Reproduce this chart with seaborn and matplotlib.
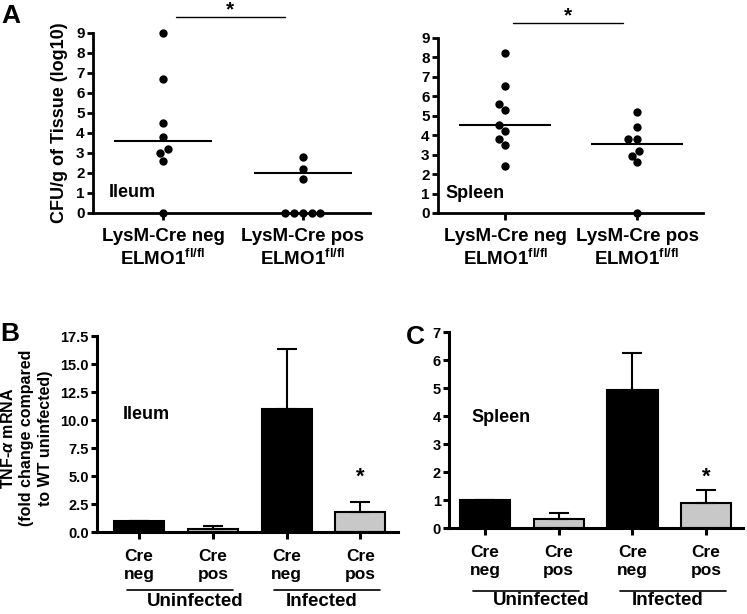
import numpy as np
import pandas as pd
import seaborn as sns
import matplotlib.pyplot as plt

# Panel A: CFU per g tissue (log10), one dot per mouse
groups = ['LysM-Cre neg', 'LysM-Cre pos']
ileum_neg = [9.0, 6.7, 4.5, 3.8, 3.2, 3.0, 2.6, 0.0]
ileum_pos = [2.8, 2.2, 1.7, 0.0, 0.0, 0.0, 0.0, 0.0]
spleen_neg = [8.2, 6.5, 5.6, 5.3, 4.5, 4.2, 3.8, 3.5, 2.4]
spleen_pos = [5.2, 4.4, 3.8, 3.8, 3.2, 2.95, 2.6, 0.0]
ileum_line = [3.6, 2.0]
spleen_line = [4.5, 3.55]

# Panels B/C: TNF-alpha mRNA
bar_ids = ['Uninfected neg', 'Uninfected pos', 'Infected neg', 'Infected pos']
bar_labels = ['Cre\nneg', 'Cre\npos', 'Cre\nneg', 'Cre\npos']
conditions = ['Uninfected', 'Infected']
ileum_tnf = [1.0, 0.25, 11.0, 1.8]
ileum_tnf_err = [0.0, 0.25, 5.3, 0.9]
spleen_tnf = [1.0, 0.33, 4.92, 0.9]
spleen_tnf_err = [0.0, 0.19, 1.33, 0.45]

sns.set_theme(style='ticks')
plt.rcParams['font.family'] = ['Liberation Sans', 'DejaVu Sans']
plt.rcParams['font.weight'] = 'bold'
plt.rcParams['axes.labelweight'] = 'bold'
plt.rcParams['text.color'] = 'black'
plt.rcParams['axes.labelcolor'] = 'black'
plt.rcParams['xtick.color'] = 'black'
plt.rcParams['ytick.color'] = 'black'
plt.rcParams['mathtext.fontset'] = 'custom'
plt.rcParams['mathtext.rm'] = 'Liberation Sans:bold'
plt.rcParams['mathtext.bf'] = 'Liberation Sans:bold'
plt.rcParams['mathtext.it'] = 'Liberation Sans:italic:bold'

W, H = 747, 614
fig = plt.figure(figsize=(W / 100, H / 100), dpi=100)


def px_axes(left, top, right, bottom):
    return fig.add_axes([left / W, 1 - bottom / H, (right - left) / W, (bottom - top) / H])


def style_axes(ax, lw):
    for s in ['top', 'right']:
        ax.spines[s].set_visible(False)
    for s in ['left', 'bottom']:
        ax.spines[s].set_linewidth(lw)
        ax.spines[s].set_color('black')
    ax.tick_params(axis='both', colors='black', width=lw, length=4, pad=2)


def dot_panel(ax, neg, pos, line, organ, xlim, sig_x, sig_y, text_x):
    df = pd.DataFrame({'group': [groups[0]] * len(neg) + [groups[1]] * len(pos),
                       'value': neg + pos})
    sns.swarmplot(data=df, x='group', y='value', order=groups, color='black',
                  size=6, ax=ax)
    for c in ax.collections:
        c.set_clip_on(False)
        c.set_zorder(5)
    ax.hlines(line, [i - 0.35 for i in range(2)], [i + 0.35 for i in range(2)],
              color='black', lw=1.5)
    ax.set_xlim(*xlim)
    ax.set_ylim(0, 9)
    ax.set_yticks(range(10))
    ax.set_xticks([0, 1])
    ax.set_xticklabels([g + '\nELMO1$^{\\mathrm{fl/fl}}$' for g in groups], fontsize=13.5)
    ax.tick_params(axis='y', labelsize=11)
    ax.tick_params(axis='x', length=5, pad=6)
    ax.set_xlabel('')
    ax.set_ylabel('')
    ax.plot(sig_x, [sig_y, sig_y], color='black', lw=1, clip_on=False)
    ax.text(np.mean(sig_x), sig_y + 0.35, '*', ha='center', va='center', fontsize=15)
    ax.text(text_x, 1.0, organ, ha='left', va='center', fontsize=13)


def bar_panel(ax, values, err, ymax, yticks, organ, organ_xy, star_y, xlim, under_y, text_y):
    df = pd.DataFrame({'id': bar_ids, 'value': values})
    colors = dict(zip(bar_ids, ['black', '#c8c8c8', 'black', '#c8c8c8']))
    sns.barplot(data=df, x='id', y='value', hue='id', palette=colors, order=bar_ids,
                width=0.68, edgecolor='black', linewidth=1.5, legend=False,
                errorbar=None, ax=ax)
    ax.errorbar(range(4), values, yerr=[np.zeros(4), err], fmt='none', ecolor='black',
                capsize=7, elinewidth=1.5, capthick=1.5, zorder=1)
    ax.set_xlim(*xlim)
    ax.set_ylim(0, ymax)
    ax.set_yticks(yticks)
    ax.set_xticks(range(4))
    ax.set_xticklabels(bar_labels, fontsize=12.5)
    for t in ax.get_xticklabels():
        t.set_linespacing(1.3)
    ax.tick_params(axis='y', labelsize=10.5)
    ax.tick_params(axis='x', length=5, pad=7)
    ax.set_xlabel('')
    ax.set_ylabel('')
    ax.text(organ_xy[0], organ_xy[1], organ, ha='left', va='center', fontsize=13)
    ax.text(3, star_y, '*', ha='center', va='center', fontsize=16)
    tr = ax.get_xaxis_transform()
    text_x = [0.76, 2.48]
    for k, cond in enumerate(conditions):
        x0, x1 = 2 * k - 0.17, 2 * k + 1 + 0.27
        ax.plot([x0, x1], [under_y, under_y], color='black', lw=1.2, transform=tr, clip_on=False)
        ax.text(text_x[k], text_y, cond, ha='center', va='center', fontsize=13.5,
                transform=tr)


# Panel A
axA1 = px_axes(93, 33, 370, 213)
style_axes(axA1, 2)
dot_panel(axA1, ileum_neg, ileum_pos, ileum_line, 'Ileum', (-0.5, 1.48),
          [0.09, 0.87], 9.8, -0.39)
axA1.set_ylabel('CFU/g of Tissue (log10)', fontsize=13)
axA1.yaxis.set_label_coords(-0.09, 0.5)

axA2 = px_axes(438, 37.7, 703, 213)
style_axes(axA2, 2)
dot_panel(axA2, spleen_neg, spleen_pos, spleen_line, 'Spleen', (-0.51, 1.5),
          [0.06, 0.89], 9.75, -0.45)

# Panel B
axB = px_axes(97, 336, 398, 532)
style_axes(axB, 2.2)
bar_panel(axB, ileum_tnf, ileum_tnf_err, 17.5, np.arange(0, 17.6, 2.5), 'Ileum',
          (-0.22, 10.5), 4.9, (-0.57, 3.51), -0.296, -0.357)
axB.set_ylabel('TNF-$\\alpha$ mRNA\n(fold change compared\nto WT uninfected)',
               fontsize=11.5, linespacing=1.3)
axB.yaxis.set_label_coords(-0.146, 0.48)

# Panel C
axC = px_axes(449, 332, 743, 528)
style_axes(axC, 2.2)
bar_panel(axC, spleen_tnf, spleen_tnf_err, 7, range(8), 'Spleen',
          (-0.19, 3.93), 1.8, (-0.49, 3.5), -0.322, -0.37)

fig.text(1 / W, 1 - 16 / H, 'A', fontsize=19, va='center', ha='left')
fig.text(0 / W, 1 - 334 / H, 'B', fontsize=19, va='center', ha='left')
fig.text(406 / W, 1 - 337 / H, 'C', fontsize=19, va='center', ha='left')

fig.savefig('out.png', dpi=100)
